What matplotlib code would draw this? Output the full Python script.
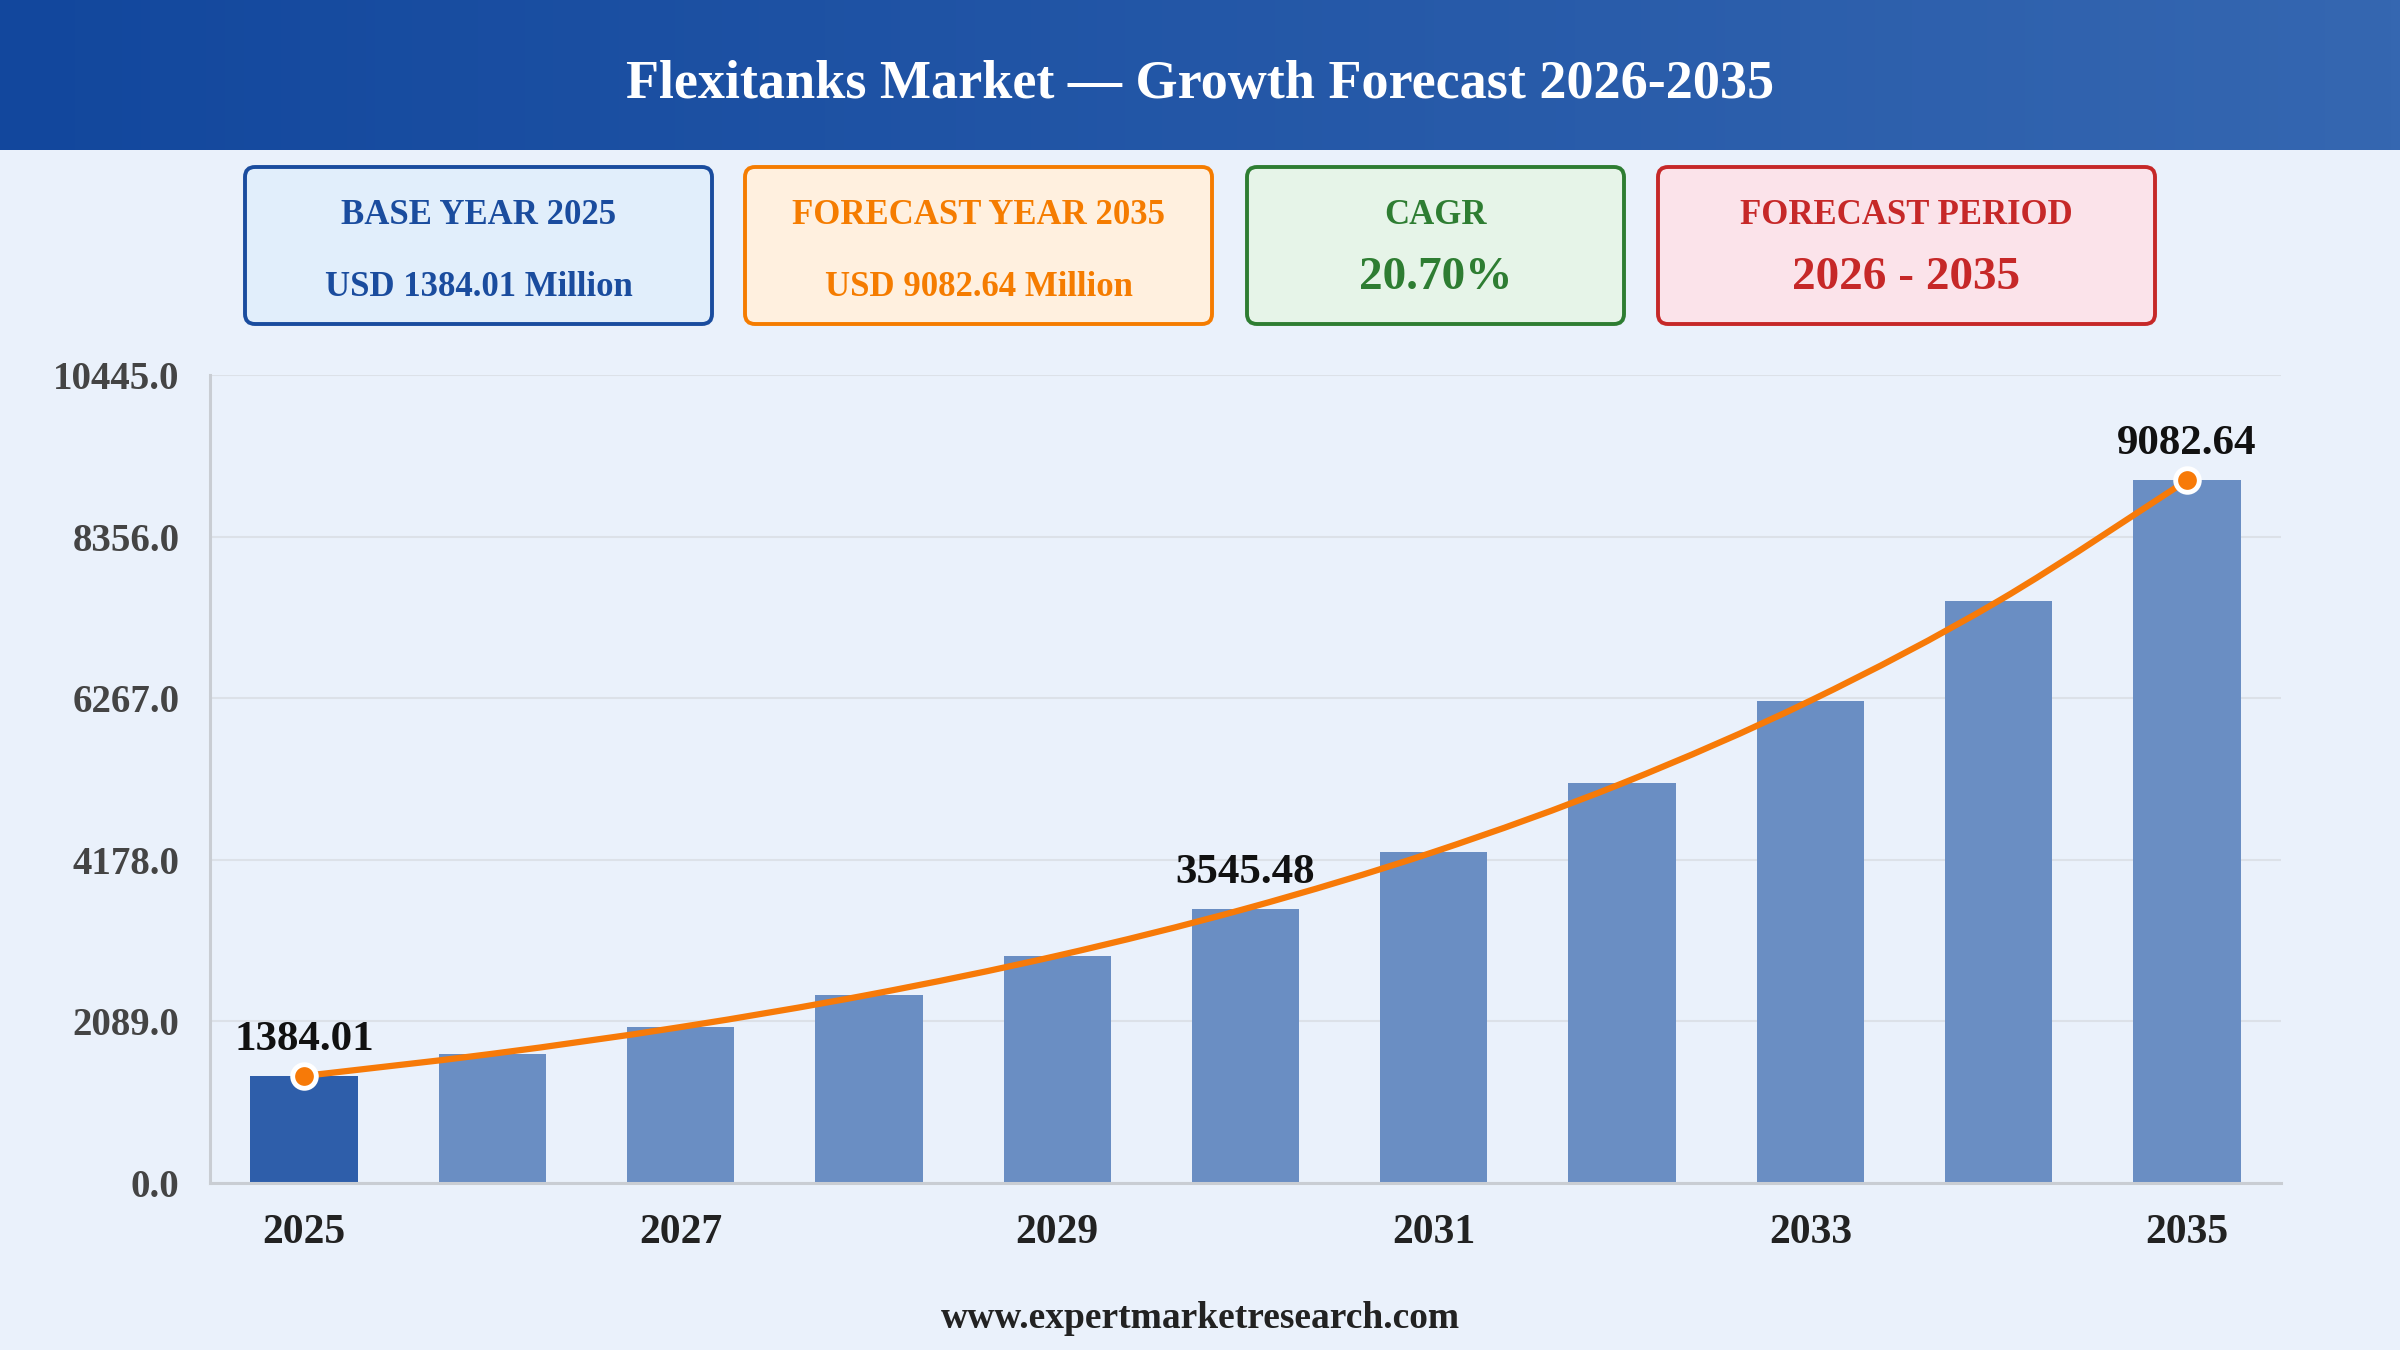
import numpy as np
import matplotlib.pyplot as plt
from matplotlib.patches import FancyBboxPatch, PathPatch
from matplotlib.path import Path

# values (USD million)
years = [2025, 2026, 2027, 2028, 2029, 2030, 2031, 2032, 2033, 2034, 2035]
values = [1384.01, 1670.50, 2016.30, 2433.67, 2937.44, 3545.48, 4279.39, 5165.22, 6234.42, 7524.95, 9082.64]
labelled_years = [2025, 2030, 2035]
marked_years = [2025, 2035]
y_ticks = [0, 2089, 4178, 6267, 8356, 10445]
x_tick_years = [2025, 2027, 2029, 2031, 2033, 2035]

title = "Flexitanks Market \u2014 Growth Forecast 2026-2035"
box_heads = ["BASE YEAR 2025", "FORECAST YEAR 2035", "CAGR", "FORECAST PERIOD"]
box_values = ["USD 1384.01 Million", "USD 9082.64 Million", "20.70%", "2026 - 2035"]
footer = "www.expertmarketresearch.com"

BG = "#EAF1FB"
SERIF = "Liberation Serif"
W, H = 2400, 1350

fig = plt.figure(figsize=(24, 13.5), dpi=100, facecolor=BG)

# overlay in pixel units for header, boxes, footer
ov = fig.add_axes([0, 0, 1, 1], zorder=0)
ov.set_xlim(0, W)
ov.set_ylim(H, 0)
ov.axis("off")

c0 = np.array([0x12, 0x47, 0x9D]) / 255
c1 = np.array([0x35, 0x67, 0xB1]) / 255
t = np.linspace(0, 1, 256)[None, :, None]
grad = c0 + (c1 - c0) * t
ov.imshow(grad, extent=(0, W, 150, 0), aspect="auto", zorder=1)
ov.set_xlim(0, W)
ov.set_ylim(H, 0)
ov.text(W / 2, 85, title, color="white", fontsize=39, fontweight="bold",
        family=SERIF, ha="center", va="center", zorder=3)

box_x = [(245, 712), (745, 1212), (1247, 1624), (1658, 2155)]
box_edge = ["#1A4C9E", "#F57C00", "#2E7D32", "#C62828"]
box_face = ["#E1EEFB", "#FFF0DF", "#E6F4E8", "#FBE3EA"]
val_size = [25, 25, 34, 34]
val_y = [287, 287, 278, 278]
for i in range(4):
    x0, x1 = box_x[i]
    p = FancyBboxPatch((x0, 167), x1 - x0, 157, boxstyle="round,pad=0,rounding_size=10",
                       facecolor=box_face[i], edgecolor=box_edge[i], linewidth=2.8, zorder=2)
    ov.add_patch(p)
    cx = (x0 + x1) / 2
    ov.text(cx, 215, box_heads[i], color=box_edge[i], fontsize=25, fontweight="bold",
            family=SERIF, ha="center", va="center", zorder=3)
    ov.text(cx, val_y[i], box_values[i], color=box_edge[i], fontsize=val_size[i],
            fontweight="bold", family=SERIF, ha="center", va="center", zorder=3)

ov.text(W / 2, 1318, footer, color="#222222", fontsize=27, fontweight="bold",
        family=SERIF, ha="center", va="center", zorder=3)

# main chart
ax = fig.add_axes([210 / W, 1 - 1183 / H, (2281 - 210) / W, (1183 - 375) / H], zorder=1)
ax.set_facecolor("none")
x = np.arange(len(years))
colors = ["#2E5EAA"] + ["#6A8EC3"] * (len(years) - 1)
ax.bar(x, values, width=0.57, color=colors, zorder=2)

# smooth line through the values (catmull-rom as cubic bezier)
pts = np.column_stack([x, values]).astype(float)
verts = [tuple(pts[0])]
codes = [Path.MOVETO]
k = 1 / 6
for i in range(len(pts) - 1):
    p0 = pts[i - 1] if i > 0 else pts[i]
    p1, p2 = pts[i], pts[i + 1]
    p3 = pts[i + 2] if i + 2 < len(pts) else pts[i + 1]
    verts += [tuple(p1 + (p2 - p0) * k), tuple(p2 - (p3 - p1) * k), tuple(p2)]
    codes += [Path.CURVE4] * 3
ax.add_patch(PathPatch(Path(verts, codes), facecolor="none", edgecolor="#F77A08",
                       linewidth=4.5, capstyle="round", zorder=3))

for yr in marked_years:
    i = years.index(yr)
    ax.plot(x[i], values[i], "o", markersize=17, markerfacecolor="#F77A08",
            markeredgecolor="white", markeredgewidth=3.5, zorder=4)
for yr in labelled_years:
    i = years.index(yr)
    ax.annotate(f"{values[i]:.2f}", (x[i], values[i]), xytext=(0, 26), textcoords="offset points",
                ha="center", va="center", fontsize=31, fontweight="bold", family=SERIF,
                color="#111111", zorder=5)

ax.set_xlim(-0.5, len(years) - 0.5)
ax.set_ylim(0, y_ticks[-1])
ax.set_yticks(y_ticks)
ax.set_yticklabels([f"{v:.1f}" for v in y_ticks], fontsize=28, fontweight="bold",
                   family=SERIF, color="#444444")
ax.set_xticks([years.index(y) for y in x_tick_years])
ax.set_xticklabels([str(y) for y in x_tick_years], fontsize=30, fontweight="bold",
                   family=SERIF, color="#222222")
ax.tick_params(axis="y", length=0, pad=22)
ax.tick_params(axis="x", length=0, pad=22)
ax.yaxis.grid(True, color="#DCE1E8", linewidth=1.5, zorder=0)
ax.set_axisbelow(True)
for s in ["top", "right"]:
    ax.spines[s].set_visible(False)
for s in ["left", "bottom"]:
    ax.spines[s].set_color("#C9CDD3")
    ax.spines[s].set_linewidth(2.2)

fig.savefig("out.png", dpi=100, facecolor=BG)
